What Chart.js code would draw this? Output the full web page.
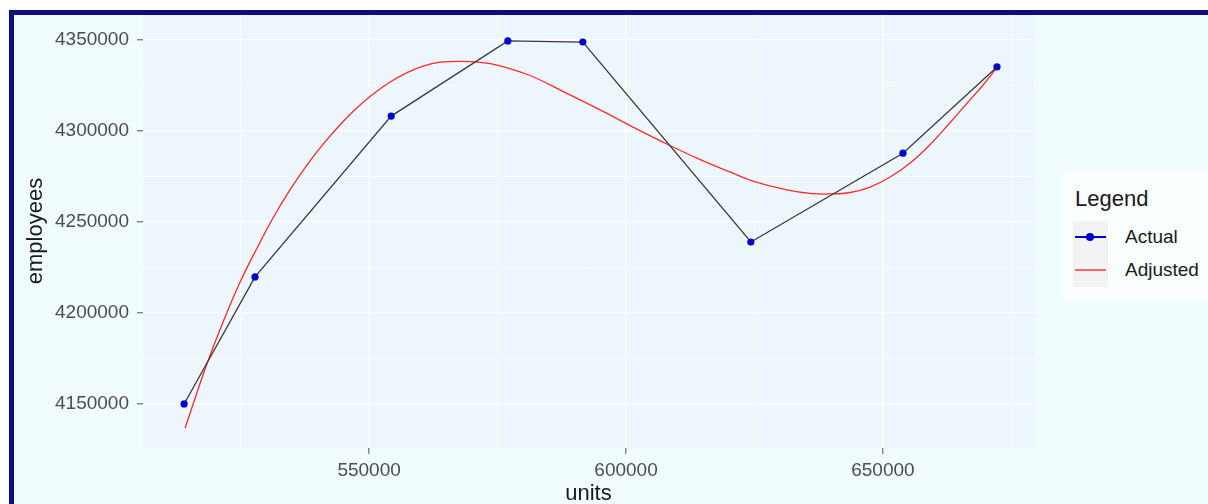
<!DOCTYPE html>
<html>
<head>
<meta charset="utf-8">
<script src="https://cdn.jsdelivr.net/npm/chart.js@4.4.0/dist/chart.umd.min.js"></script>
<style>
  body { margin: 0; width: 1208px; height: 504px; overflow: hidden; background: #fff; position: relative;
         font-family: "Liberation Sans", Arial, sans-serif; }
  #frame { position: absolute; left: 9px; top: 10px; width: 1199px; height: 494px; box-sizing: border-box;
           background: #f0fcfe; }
  #edge { position: absolute; left: 9px; top: 10px; width: 1199px; height: 494px; box-sizing: border-box;
          border-top: 5px solid #0e0e7e; border-left: 5px solid #0e0e7e; }
  #grafica { position: absolute; left: 0; top: 0; }
  #legend { position: absolute; left: 1062px; top: 172px; width: 146px; height: 128px; background: #fbfefe; }
  #legend .title { position: absolute; left: 13px; top: 16px; font-size: 22px; line-height: 22px; color: #1a1a1a; }
  #legend .item { position: absolute; left: 11px; width: 140px; height: 33px; }
  #legend .key { position: absolute; left: 0; top: 0; width: 35px; height: 33px; background: #f1f3f4; }
  #legend .line { position: absolute; left: 2px; top: 15px; width: 31px; height: 2px; }
  #legend .dot { position: absolute; left: 13px; top: 12px; width: 8px; height: 8px; border-radius: 50%; }
  #legend .label { position: absolute; left: 52px; top: 6px; font-size: 19px; line-height: 20px; color: #1a1a1a; }
</style>
</head>
<body>
<div id="frame"></div>
<canvas id="grafica" width="1208" height="504"></canvas>
<div id="edge"></div>
<div id="legend"><div class="title">Legend</div></div>
<script>
const actualUnits = [514000, 527800, 554300, 577000, 591600, 624300, 653900, 672200];
const actualEmployees = [4150000, 4219800, 4308200, 4349500, 4348900, 4239000, 4287800, 4335200];

const adjUnits = [514200, 518500, 521600, 524900, 528200, 531300, 534600, 537900, 541100, 544400,
                  547700, 550800, 554100, 557400, 560500, 563800, 568300, 571600, 574900, 581300,
                  587700, 594400, 600800, 607200, 613800, 620200, 624700, 631300, 635800, 639700,
                  643600, 647500, 651400, 655300, 659100, 663000, 666900, 669500, 671800];
const adjEmployees = [4136800, 4172500, 4195100, 4217000, 4235700, 4252200, 4267600, 4281300, 4292900, 4303600,
                      4312900, 4320300, 4326900, 4332100, 4335700, 4337800, 4338300, 4337700, 4336200, 4330500,
                      4321800, 4312400, 4303000, 4293900, 4285100, 4277500, 4272500, 4267600, 4265700, 4265400,
                      4266200, 4269200, 4274700, 4282400, 4292300, 4304400, 4317000, 4325300, 4333500];

const xTicks = [550000, 600000, 650000];
const xMinor = [525000, 575000, 625000, 675000];
const yTicks = [4150000, 4200000, 4250000, 4300000, 4350000];
const yMinor = [4175000, 4225000, 4275000, 4325000];

const seriesNames = ['Actual', 'Adjusted'];
const seriesColors = ['#0000cd', '#ff2a2a'];

const toPoints = (xs, ys) => xs.map((x, i) => ({x: x, y: ys[i]}));

// fondo del panel (estilo ggplot)
const panelBg = {
    id: 'panelBg',
    beforeDraw(chart) {
        const {ctx, chartArea: a} = chart;
        ctx.save();
        ctx.fillStyle = '#edf5fd';
        ctx.fillRect(a.left, a.top, a.right - a.left, a.bottom - a.top);
        ctx.restore();
    }
};

function axisOpts(major, minor, min, max, title) {
    const isMajor = v => major.includes(v);
    return {
        type: 'linear',
        min: min,
        max: max,
        afterBuildTicks: scale => {
            scale.ticks = major.concat(minor).sort((a, b) => a - b).map(v => ({value: v}));
        },
        border: {display: false},
        grid: {
            color: '#ffffff',
            lineWidth: c => (c.tick && isMajor(c.tick.value)) ? 1.6 : 0.8,
            tickColor: c => (c.tick && isMajor(c.tick.value)) ? '#555555' : 'rgba(0,0,0,0)',
            tickLength: 6,
            tickWidth: 1
        },
        ticks: {
            autoSkip: false,
            maxRotation: 0,
            minRotation: 0,
            color: '#4d4d4d',
            font: {family: '"Liberation Sans", Arial, sans-serif', size: 19},
            callback: v => isMajor(v) ? String(v) : ''
        },
        title: {
            display: true,
            text: title,
            color: '#1a1a1a',
            font: {family: '"Liberation Sans", Arial, sans-serif', size: 22, lineHeight: 1}
        }
    };
}

const xOpts = axisOpts(xTicks, xMinor, 506000, 679400, 'units');
xOpts.ticks.padding = 5;
xOpts.title.padding = {top: 0, bottom: -1};
xOpts.afterFit = s => { s.height = 56; s.paddingLeft = 0; s.paddingRight = 0; };

const yOpts = axisOpts(yTicks, yMinor, 4125800, 4364300, 'employees');
yOpts.ticks.padding = 8;
yOpts.title.padding = {top: 11, bottom: 0};
yOpts.afterFit = s => { s.width = 129; s.paddingTop = 0; s.paddingBottom = 0; };

const ctx = document.getElementById('grafica').getContext('2d');
const ch = new Chart(ctx, {
    type: 'scatter',
    data: {
        datasets: [{
            label: seriesNames[0],
            data: toPoints(actualUnits, actualEmployees),
            showLine: true,
            borderColor: '#3a3a3a',
            borderWidth: 1.3,
            pointRadius: 3.6,
            pointBackgroundColor: seriesColors[0],
            pointBorderColor: seriesColors[0],
            pointBorderWidth: 0,
            order: 1
        }, {
            label: seriesNames[1],
            data: toPoints(adjUnits, adjEmployees),
            showLine: true,
            borderColor: seriesColors[1],
            borderWidth: 1.3,
            pointRadius: 0,
            tension: 0.4,
            order: 2
        }]
    },
    options: {
        responsive: false,
        animation: false,
        layout: {padding: {left: 14, top: 14, right: 174, bottom: 0}},
        plugins: {legend: {display: false}, tooltip: {enabled: false}},
        scales: {x: xOpts, y: yOpts}
    },
    plugins: [panelBg]
});

// leyenda en HTML
const leg = document.getElementById('legend');
seriesNames.forEach((name, i) => {
    const item = document.createElement('div');
    item.className = 'item';
    item.style.top = (49 + i * 33) + 'px';
    const lineColor = i === 0 ? seriesColors[0] : '#f46a6a';
    let html = '<div class="key"><div class="line" style="background:' + lineColor + '"></div>';
    if (i === 0) html += '<div class="dot" style="background:' + seriesColors[0] + '"></div>';
    html += '</div><div class="label">' + name + '</div>';
    item.innerHTML = html;
    leg.appendChild(item);
});
</script>
</body>
</html>
